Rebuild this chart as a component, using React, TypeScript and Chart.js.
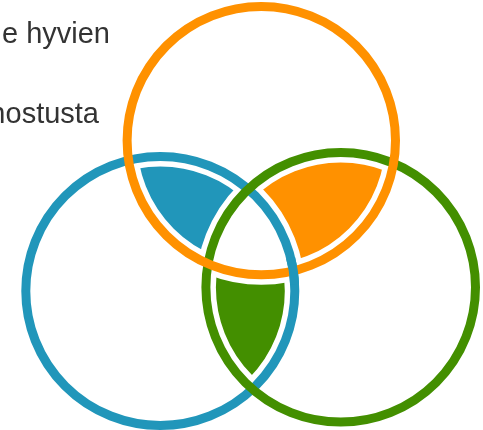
import React, { useEffect, useRef } from "react";
import { Chart, registerables } from "chart.js";

Chart.register(...registerables);

// Circle sets (data units = chart scale units)
const setIds = ["blue", "orange", "green"];
const centerX = [160.3, 261.3, 340.7];
const centerY = [291.0, 140.6, 287.3];
const radii = [134.5, 134.2, 134.8];
const setColors = ["#2196ba", "#ff9100", "#438f00"];

// Pairwise-only intersections: [setA, setB, excludedSet, colourIndex]
const lensA = [1, 1, 0];
const lensB = [0, 2, 2];
const lensExcluded = [2, 0, 1];
const lensColor = [0, 1, 2];

// Stroke order (last is on top); blue is re-drawn over orange at the inner crossing
const strokeOrder = [0, 2, 1];

const labelTexts = ["e hyvien", "nostusta"];
const labelRight = [110, 99];
const labelBaseline = [43, 123];

const X_MAX = 483;
const Y_MAX = 430;

const vennPlugin = {
  id: "vennPlugin",
  afterDatasetsDraw(chart: any) {
    const { ctx, scales } = chart;
    const xs = scales.x;
    const ys = scales.y;
    const px = (i: number) => xs.getPixelForValue(centerX[i]);
    const py = (i: number) => ys.getPixelForValue(centerY[i]);
    const pr = (i: number) =>
      Math.abs(xs.getPixelForValue(centerX[i] + radii[i]) - px(i));
    const circ = (i: number) => {
      ctx.beginPath();
      ctx.arc(px(i), py(i), pr(i), 0, Math.PI * 2);
    };

    ctx.save();
    // lens fills
    for (let k = 0; k < lensA.length; k++) {
      ctx.save();
      circ(lensA[k]);
      ctx.clip();
      circ(lensB[k]);
      ctx.clip();
      const c = lensExcluded[k];
      ctx.beginPath();
      ctx.rect(0, 0, chart.width, chart.height);
      ctx.moveTo(px(c) + pr(c), py(c));
      ctx.arc(px(c), py(c), pr(c), 0, Math.PI * 2);
      ctx.fillStyle = setColors[lensColor[k]];
      ctx.fill("evenodd");
      ctx.restore();
    }

    // white halos
    ctx.strokeStyle = "#ffffff";
    ctx.lineWidth = 20;
    for (let i = 0; i < setIds.length; i++) {
      circ(i);
      ctx.stroke();
    }

    // coloured rings
    ctx.lineWidth = 9;
    for (const i of strokeOrder) {
      circ(i);
      ctx.strokeStyle = setColors[i];
      ctx.stroke();
    }

    // weave: blue over orange at the inner blue/orange crossing
    const x0 = px(0), y0 = py(0), r0 = pr(0);
    const x1 = px(1), y1 = py(1), r1 = pr(1);
    const dx = x1 - x0, dy = y1 - y0;
    const d = Math.hypot(dx, dy);
    const a = (r0 * r0 - r1 * r1 + d * d) / (2 * d);
    const h = Math.sqrt(Math.max(0, r0 * r0 - a * a));
    const mx = x0 + (a * dx) / d, my = y0 + (a * dy) / d;
    const p1 = [mx + (h * dy) / d, my - (h * dx) / d];
    const p2 = [mx - (h * dy) / d, my + (h * dx) / d];
    const gx = px(2), gy = py(2);
    const inner =
      Math.hypot(p1[0] - gx, p1[1] - gy) < Math.hypot(p2[0] - gx, p2[1] - gy) ? p1 : p2;
    ctx.save();
    ctx.beginPath();
    ctx.arc(inner[0], inner[1], 14, 0, Math.PI * 2);
    ctx.clip();
    circ(0);
    ctx.strokeStyle = setColors[0];
    ctx.stroke();
    ctx.restore();

    // labels
    ctx.font = '29px "Liberation Sans", Arial, sans-serif';
    ctx.fillStyle = "#333333";
    ctx.textAlign = "right";
    ctx.textBaseline = "alphabetic";
    for (let i = 0; i < labelTexts.length; i++) {
      ctx.fillText(labelTexts[i], labelRight[i], labelBaseline[i]);
    }
    ctx.restore();
  },
};

export default function App() {
  const canvasRef = useRef<HTMLCanvasElement | null>(null);

  useEffect(() => {
    document.body.style.margin = "0";
    const canvas = canvasRef.current;
    if (!canvas) return;
    const chart = new Chart(canvas, {
      type: "scatter",
      data: {
        datasets: [
          {
            label: "sets",
            data: centerX.map((x, i) => ({ x, y: centerY[i] })),
            pointRadius: 0,
            pointHoverRadius: 0,
            showLine: false,
          },
        ],
      },
      options: {
        animation: false,
        responsive: true,
        maintainAspectRatio: false,
        layout: { padding: 0 },
        events: [],
        scales: {
          x: { type: "linear", min: 0, max: X_MAX, display: false },
          y: { type: "linear", min: 0, max: Y_MAX, reverse: true, display: false },
        },
        plugins: {
          legend: { display: false },
          tooltip: { enabled: false },
          title: { display: false },
        },
      },
      plugins: [vennPlugin],
    });
    return () => chart.destroy();
  }, []);

  return (
    <div style={{ position: "fixed", left: 0, top: 0, width: 483, height: 430, background: "#fff" }}>
      <canvas ref={canvasRef} />
    </div>
  );
}
